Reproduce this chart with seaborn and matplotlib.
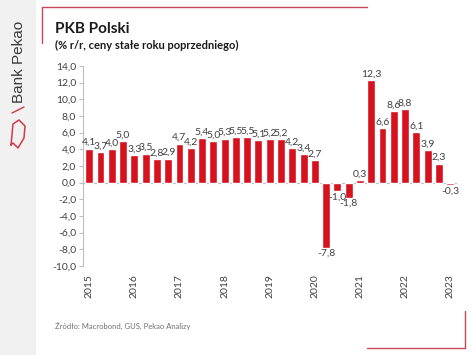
import matplotlib
matplotlib.use("Agg")
import matplotlib.pyplot as plt
import seaborn as sns
import pandas as pd
from matplotlib.lines import Line2D

# quarterly GDP growth, 2015Q1 .. 2023Q1
quarters = [f"{y}Q{q}" for y in range(2015, 2024) for q in range(1, 5)][:33]
gdp = [4.1, 3.7, 4.0, 5.0,
       3.3, 3.5, 2.8, 2.9,
       4.7, 4.2, 5.4, 5.0,
       5.3, 5.5, 5.5, 5.1,
       5.2, 5.2, 4.2, 3.4,
       2.7, -7.8, -1.0, -1.8,
       0.3, 12.3, 6.6, 8.6,
       8.8, 6.1, 3.9, 2.3,
       -0.3]
years = [str(y) for y in range(2015, 2024)]
yticks = [-10, -8, -6, -4, -2, 0, 2, 4, 6, 8, 10, 12, 14]

df = pd.DataFrame({"kw": quarters, "pkb": gdp})

sns.set_style("white")
plt.rcParams["font.family"] = ["Lato", "DejaVu Sans"]

red = "#d5121e"
txt = "#404040"

fig = plt.figure(figsize=(4.74, 3.55), dpi=100)
ax = fig.add_axes([83 / 474, 89 / 355, 374 / 474, 200 / 355])

sns.barplot(data=df, x="kw", y="pkb", order=quarters, color=red,
            saturation=1, width=0.7, ax=ax)

ax.bar_label(ax.containers[0], fmt=lambda v: f"{v:.1f}".replace(".", ","),
             fontsize=7.5, color=txt, padding=1)

ax.set_ylim(-10, 14)
ax.set_yticks(yticks)
ax.set_yticklabels([f"{v:.1f}".replace(".", ",") for v in yticks],
                   fontsize=7.5, color=txt)
ax.set_xlim(-0.55, 32.6)
ax.set_xticks(range(0, 33, 4))
ax.set_xticklabels(years, rotation=90, fontsize=7.5, color=txt)
ax.tick_params(axis="x", length=0, pad=6)
ax.tick_params(axis="y", length=3, width=0.8, color="#bfbfbf", left=True, pad=2)
ax.set_xlabel("")
ax.set_ylabel("")

for s in ["top", "right", "bottom"]:
    ax.spines[s].set_visible(False)
ax.spines["left"].set_color("#bfbfbf")
ax.spines["left"].set_linewidth(0.8)
ax.axhline(0, color="#bfbfbf", lw=0.8, zorder=0.5)

# side band with bank name
fig.patches.append(plt.Rectangle((0, 0), 35 / 474, 1, transform=fig.transFigure,
                                 color="#f1f1f1", zorder=0))
fig.text(19 / 474, 1 - 62 / 355, "Bank Pekao", rotation=90, ha="center", va="center",
         fontsize=11, color="#3a3a3a", family=["Liberation Sans", "DejaVu Sans"])
fig.add_artist(Line2D([12 / 474, 24 / 474], [1 - 113 / 355, 1 - 107 / 355],
                      transform=fig.transFigure, color="#d03a4a", lw=1))
fig.add_artist(Line2D([11 / 474, 13 / 474, 19 / 474, 25 / 474, 24 / 474, 18 / 474, 13 / 474, 11 / 474],
                      [1 - 145 / 355, 1 - 124 / 355, 1 - 120 / 355, 1 - 126 / 355,
                       1 - 138 / 355, 1 - 148 / 355, 1 - 143 / 355, 1 - 145 / 355],
                      transform=fig.transFigure, color="#d03a4a", lw=1.1))

# corner frame
fc = "#c94656"
fig.add_artist(Line2D([42 / 474, 42 / 474, 367 / 474], [1 - 43 / 355, 1 - 7 / 355, 1 - 7 / 355],
                      transform=fig.transFigure, color=fc, lw=1))
fig.add_artist(Line2D([367 / 474, 465 / 474, 465 / 474], [1 - 348 / 355, 1 - 348 / 355, 1 - 311 / 355],
                      transform=fig.transFigure, color=fc, lw=1))

fig.text(55 / 474, 1 - 29 / 355, "PKB Polski", fontsize=11, fontweight="bold",
         color="#1a1a1a", va="center")
fig.text(55 / 474, 1 - 45 / 355, "(% r/r, ceny stałe roku poprzedniego)", fontsize=8,
         fontweight="bold", color="#1a1a1a", va="center")
fig.text(55 / 474, 1 - 326 / 355, "Źródło: Macrobond, GUS, Pekao Analizy", fontsize=5.5,
         color="#707070", va="center")

fig.savefig("out.png", dpi=100)
